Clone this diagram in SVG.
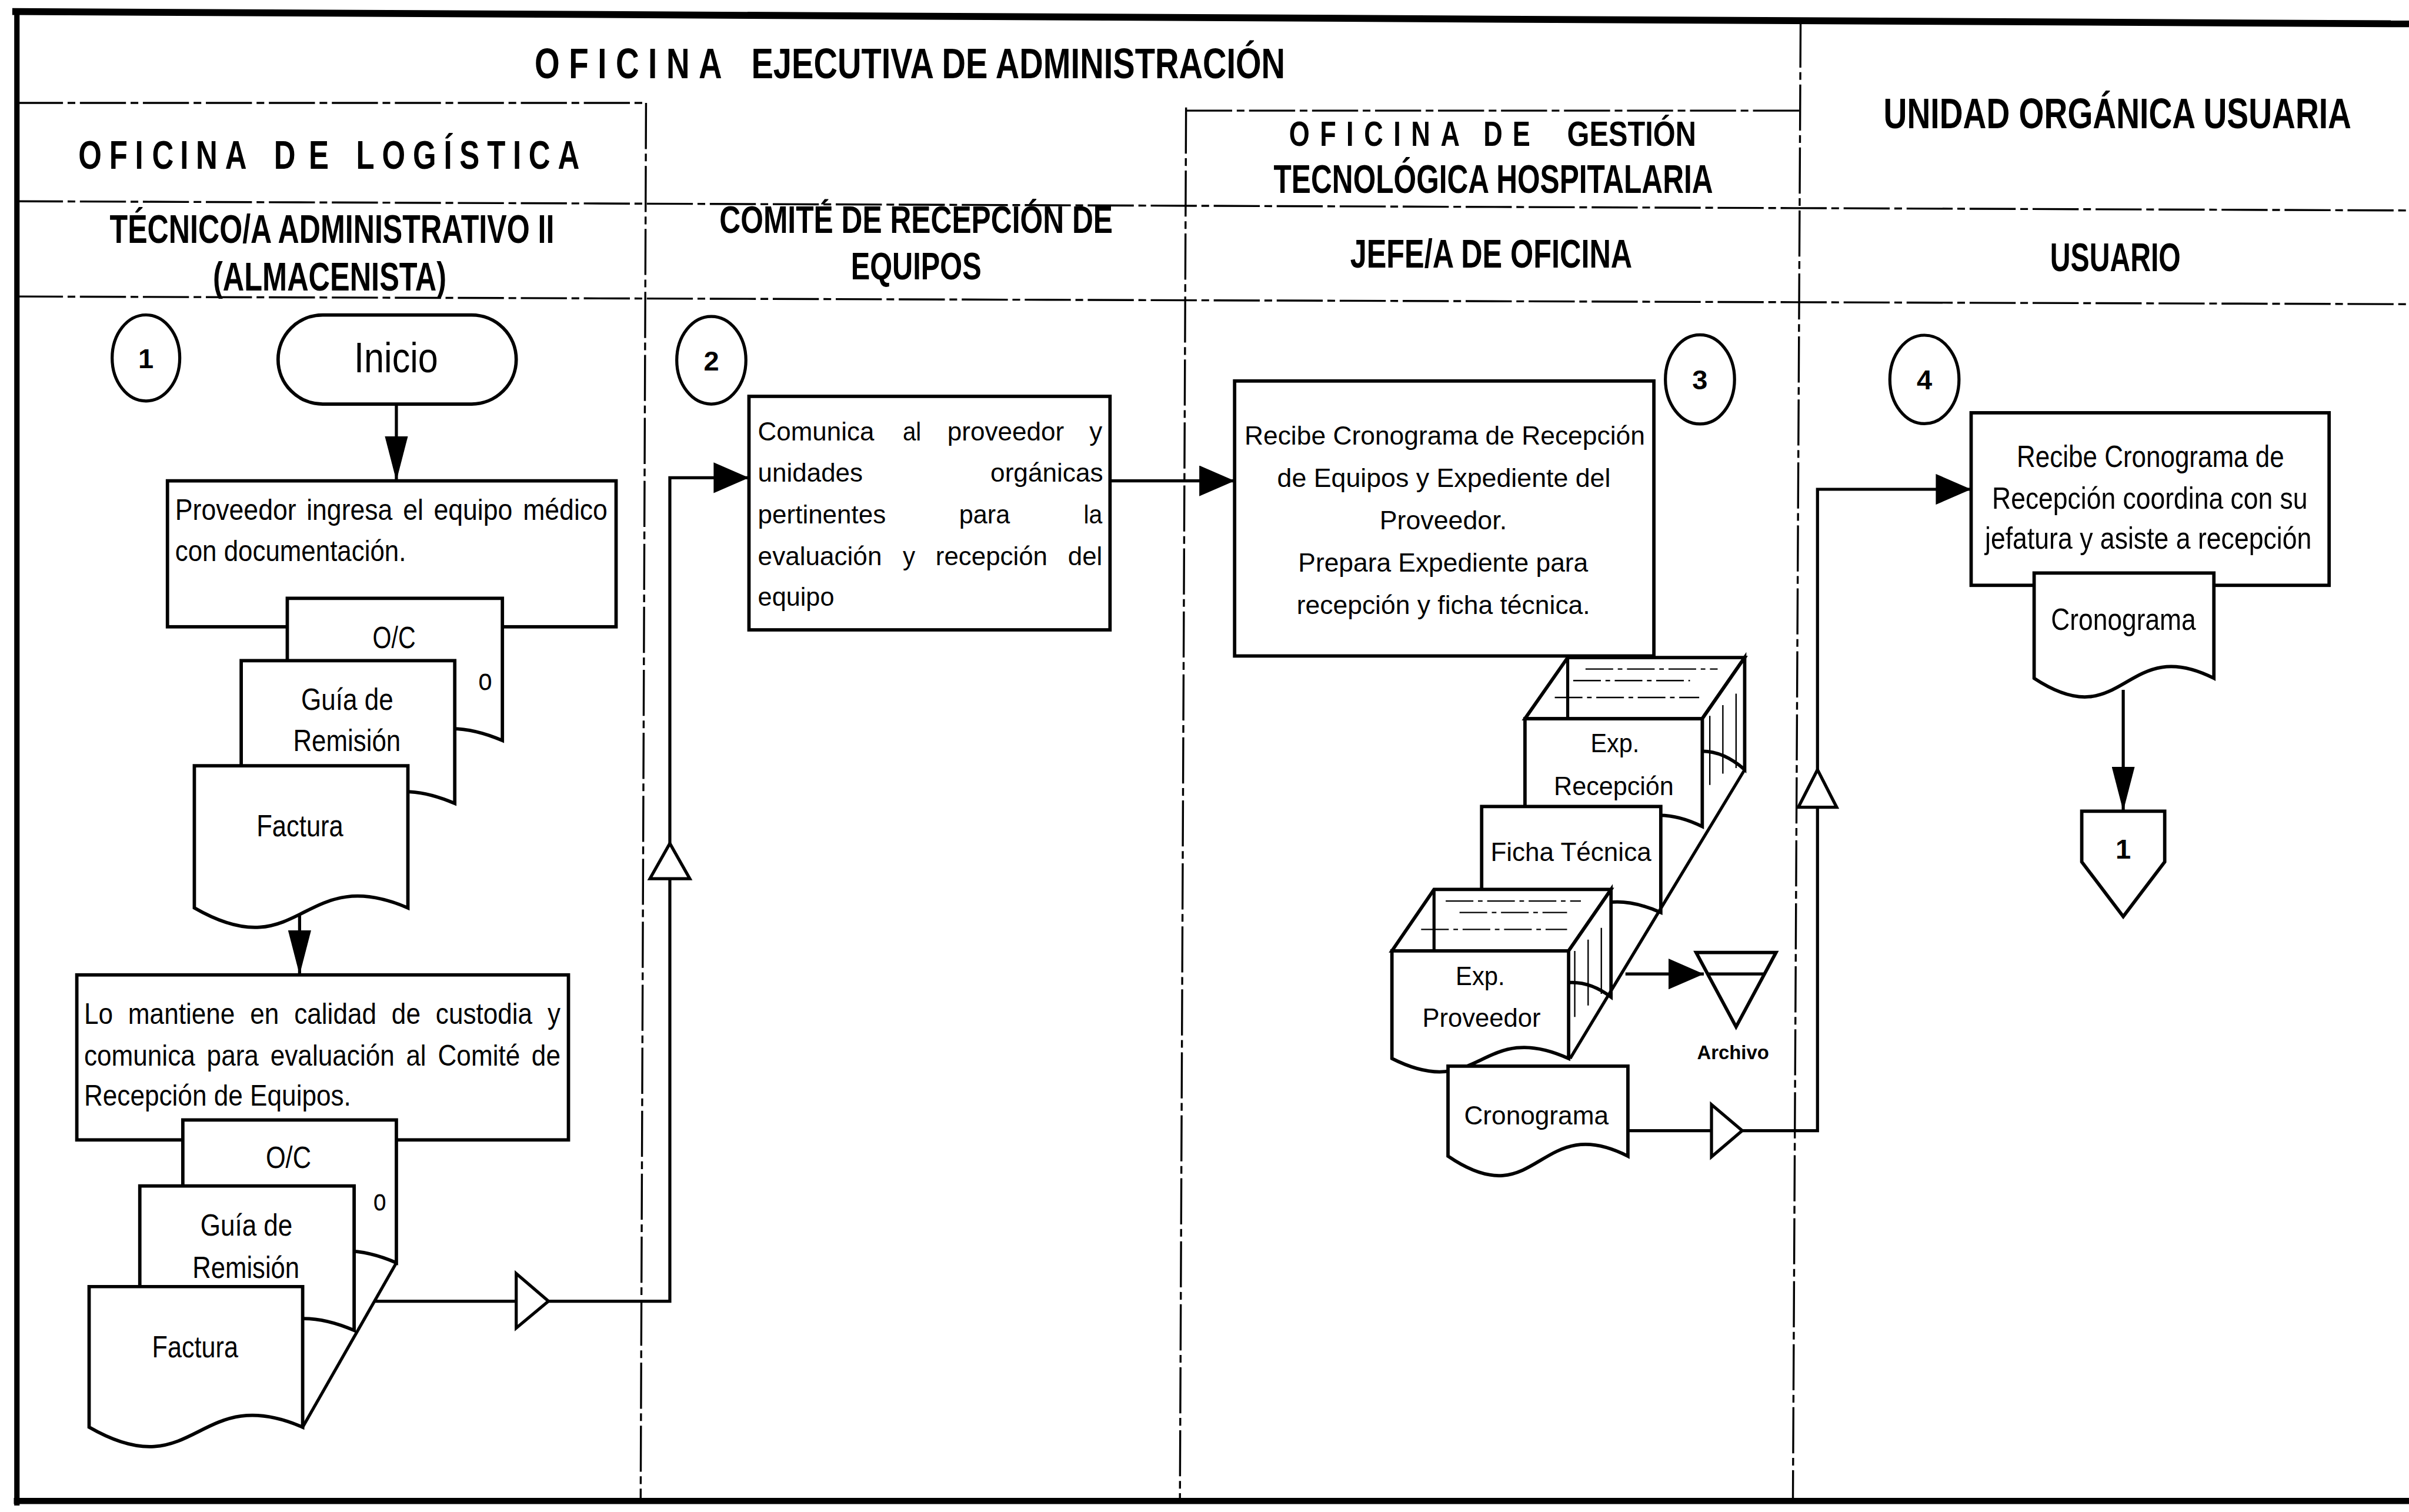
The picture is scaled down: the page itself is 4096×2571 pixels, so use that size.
<svg xmlns="http://www.w3.org/2000/svg" width="4096" height="2571" viewBox="0 0 4096 2571">
<defs>
<style>
text { font-family: "Liberation Sans", Arial, sans-serif; fill: #000; }
.hd { font-weight: bold; }
.b { font-weight: bold; }
.n19 { font-size: 19px; }
.n20 { font-size: 20px; }
.r17 { font-size: 17px; }
.num { font-size: 18px; font-weight: bold; text-anchor: middle; }
.shape { fill: #fff; stroke: #000; stroke-width: 2.2; stroke-linejoin: miter; }
.wire { fill: none; stroke: #000; stroke-width: 2; }
.open { fill: #fff; stroke: #000; stroke-width: 2; stroke-linejoin: miter; }
.grid { fill: none; stroke: #000; stroke-width: 1.3; stroke-dasharray: 30 3 5 3; }
.frame { fill: none; stroke: #000; }
.hair { fill: none; stroke: #000; stroke-width: 0.9; }
.haird { fill: none; stroke: #000; stroke-width: 0.9; stroke-dasharray: 18 3 3 3; }
</style>
<marker id="ahH" viewBox="0 0 23 20" refX="23" refY="10" markerWidth="23" markerHeight="20" markerUnits="userSpaceOnUse" orient="auto"><path d="M0,0 L23,10 L0,20 Z" fill="#000"/></marker>
<marker id="ahV" viewBox="0 0 29 15" refX="29" refY="7.5" markerWidth="29" markerHeight="15" markerUnits="userSpaceOnUse" orient="auto"><path d="M0,0 L29,7.5 L0,15 Z" fill="#000"/></marker>
</defs>
<rect width="4096" height="2571" fill="#fff"/>
<g transform="scale(2.61224)">

<!-- swimlane frame and headers -->
<g id="lanes">
  <path class="frame" stroke-width="4.5" d="M8,7.5 L1568,15.5"/>
  <path class="frame" stroke-width="3.5" d="M11,6 V980"/>
  <path class="frame" stroke-width="4" d="M9,977 H1568"/>
  <path class="grid" d="M11,67 H421"/>
  <path class="grid" d="M420.5,67 L417,977"/>
  <path class="grid" d="M772,72 H1172"/>
  <path class="grid" d="M772,70 L768,977"/>
  <path class="grid" d="M1172,14 L1167,977"/>
  <path class="grid" d="M11,131 L1568,137"/>
  <path class="grid" d="M11,193 L1568,198"/>

  <!-- letter-spaced, condensed headings: one x per letter in the narrowed frame -->
  <text class="hd" font-size="28" transform="translate(348,51) scale(0.75,1)" x="0 29.7 54.7 70.4 98.5 114.3 142.4" y="0">OFICINA</text>
  <text class="hd" x="489" y="51" font-size="28" textLength="347.5" lengthAdjust="spacingAndGlyphs">EJECUTIVA DE ADMINISTRACIÓN</text>
  <text class="hd" font-size="26" transform="translate(51,110) scale(0.75,1)" x="0 26.8 49.2 63.9 88.3 102 127.3 169.7 200 241.1 263.5 290.3 317.1 330.8 354.7 377.1 390.8 416.1" y="0">OFICINADELOGÍSTICA</text>
  <text class="hd" font-size="27.5" transform="translate(1226,83.5) scale(0.8,1)" x="0" y="0" textLength="380.6" lengthAdjust="spacingAndGlyphs">UNIDAD ORGÁNICA USUARIA</text>
  <text class="hd" font-size="23" transform="translate(839,95) scale(0.75,1)" x="0 26.8 49.7 65.1 90.7 106 131.6 168.8 194" y="0">OFICINADE</text>
  <text class="hd" x="1020" y="95" font-size="23" textLength="84" lengthAdjust="spacingAndGlyphs">GESTIÓN</text>
  <text class="hd" x="829" y="125.5" font-size="26" textLength="286" lengthAdjust="spacingAndGlyphs">TECNOLÓGICA HOSPITALARIA</text>
  <text class="hd" x="71.4" y="158" font-size="26" textLength="289.4" lengthAdjust="spacingAndGlyphs">TÉCNICO/A ADMINISTRATIVO II</text>
  <text class="hd" x="138.6" y="189" font-size="26" textLength="152" lengthAdjust="spacingAndGlyphs">(ALMACENISTA)</text>
  <text class="hd" x="468.3" y="151.5" font-size="25" textLength="256" lengthAdjust="spacingAndGlyphs">COMITÉ DE RECEPCIÓN DE</text>
  <text class="hd" x="553.8" y="181.8" font-size="25" textLength="85" lengthAdjust="spacingAndGlyphs">EQUIPOS</text>
  <text class="hd" x="878.8" y="174" font-size="26" textLength="183.6" lengthAdjust="spacingAndGlyphs">JEFE/A DE OFICINA</text>
  <text class="hd" x="1334.4" y="176.5" font-size="26" textLength="85" lengthAdjust="spacingAndGlyphs">USUARIO</text>
</g>

<!-- step markers -->
<g id="step-1"><ellipse class="open" cx="95" cy="233" rx="22" ry="28"/><text class="num" x="95" y="239.5">1</text></g>
<g id="step-2"><ellipse class="open" cx="463" cy="234.5" rx="22.5" ry="28.5"/><text class="num" x="463" y="241">2</text></g>
<g id="step-3"><ellipse class="open" cx="1106.5" cy="247" rx="22.5" ry="29"/><text class="num" x="1106.5" y="253.5">3</text></g>
<g id="step-4"><ellipse class="open" cx="1252.6" cy="247" rx="22.5" ry="28.8"/><text class="num" x="1252.6" y="253.5">4</text></g>

<!-- start terminator -->
<g id="start">
  <rect class="shape" x="181" y="205" width="155" height="58" rx="29" ry="29"/>
  <text x="230.5" y="242.3" font-size="28" textLength="54.6" lengthAdjust="spacingAndGlyphs">Inicio</text>
</g>

<!-- warehouse: equipment received -->
<g id="task-receive">
  <rect class="shape" x="109" y="313" width="292" height="95"/>
  <g class="n19">
    <text x="114" y="338.3" textLength="78.8" lengthAdjust="spacingAndGlyphs">Proveedor</text>
    <text x="199.5" y="338.3" textLength="56" lengthAdjust="spacingAndGlyphs">ingresa</text>
    <text x="262.3" y="338.3" textLength="13.3" lengthAdjust="spacingAndGlyphs">el</text>
    <text x="282.3" y="338.3" textLength="51.3" lengthAdjust="spacingAndGlyphs">equipo</text>
    <text x="340.4" y="338.3" textLength="55" lengthAdjust="spacingAndGlyphs">médico</text>
    <text x="114" y="365.3" textLength="150.3" lengthAdjust="spacingAndGlyphs">con documentación.</text>
  </g>
</g>
<g id="docs-receive" class="n20">
  <path class="shape" d="M187,389.5 H327 V482 C257,452 257,522 187,482 Z"/>
  <text x="242.5" y="422" textLength="28" lengthAdjust="spacingAndGlyphs">O/C</text>
  <text x="311.3" y="449" textLength="9" lengthAdjust="spacingAndGlyphs">o</text>
  <path class="shape" d="M157,430 H296 V523 C226.5,493 226.5,563 157,523 Z"/>
  <text x="196" y="462" textLength="60" lengthAdjust="spacingAndGlyphs">Guía de</text>
  <text x="190.8" y="489" textLength="70" lengthAdjust="spacingAndGlyphs">Remisión</text>
  <path class="shape" d="M126.5,498.5 H265.5 V591 C196,561 196,631 126.5,591 Z"/>
  <text x="167" y="544.3" textLength="56.5" lengthAdjust="spacingAndGlyphs">Factura</text>
</g>

<!-- warehouse: custody -->
<g id="task-custody">
  <rect class="shape" x="50" y="634.6" width="320" height="107.4"/>
  <g class="n19">
    <text x="54.7" y="666.5" textLength="18.8" lengthAdjust="spacingAndGlyphs">Lo</text>
    <text x="83.4" y="666.5" textLength="69.5" lengthAdjust="spacingAndGlyphs">mantiene</text>
    <text x="162.8" y="666.5" textLength="18.8" lengthAdjust="spacingAndGlyphs">en</text>
    <text x="191.5" y="666.5" textLength="53.5" lengthAdjust="spacingAndGlyphs">calidad</text>
    <text x="254.9" y="666.5" textLength="18.8" lengthAdjust="spacingAndGlyphs">de</text>
    <text x="283.6" y="666.5" textLength="62.9" lengthAdjust="spacingAndGlyphs">custodia</text>
    <text x="356.4" y="666.5" textLength="8.4" lengthAdjust="spacingAndGlyphs">y</text>
    <text x="54.7" y="693.6" textLength="72.3" lengthAdjust="spacingAndGlyphs">comunica</text>
    <text x="134.6" y="693.6" textLength="33.8" lengthAdjust="spacingAndGlyphs">para</text>
    <text x="176" y="693.6" textLength="80.8" lengthAdjust="spacingAndGlyphs">evaluación</text>
    <text x="264.3" y="693.6" textLength="13.1" lengthAdjust="spacingAndGlyphs">al</text>
    <text x="285" y="693.6" textLength="53.5" lengthAdjust="spacingAndGlyphs">Comité</text>
    <text x="346" y="693.6" textLength="18.8" lengthAdjust="spacingAndGlyphs">de</text>
    <text x="54.7" y="719.5" textLength="173.8" lengthAdjust="spacingAndGlyphs">Recepción de Equipos.</text>
  </g>
</g>
<g id="docs-custody" class="n20">
  <path class="shape" d="M119,729 H258 V822 C188.5,792 188.5,862 119,822 Z"/>
  <text x="173" y="760.3" textLength="29.5" lengthAdjust="spacingAndGlyphs">O/C</text>
  <text x="243" y="788" textLength="8.4" lengthAdjust="spacingAndGlyphs">o</text>
  <path class="shape" d="M91,772 H230.5 V866 C160.75,836 160.75,906 91,866 Z"/>
  <text x="130.4" y="804.4" textLength="60" lengthAdjust="spacingAndGlyphs">Guía de</text>
  <text x="125.3" y="832" textLength="69.6" lengthAdjust="spacingAndGlyphs">Remisión</text>
  <path class="shape" d="M58,837.5 H197 V929 C127.5,899 127.5,969 58,929 Z"/>
  <text x="99" y="883.4" textLength="56" lengthAdjust="spacingAndGlyphs">Factura</text>
  <path class="wire" stroke-width="2.2" d="M258,822 L197,929"/>
</g>

<!-- committee -->
<g id="task-committee" class="r17">
  <rect class="shape" x="487.5" y="258" width="235" height="152"/>
  <text x="493.3" y="286.6" textLength="75.7" lengthAdjust="spacingAndGlyphs">Comunica</text>
  <text x="587.6" y="286.6" textLength="12" lengthAdjust="spacingAndGlyphs">al</text>
  <text x="616.6" y="286.6" textLength="76" lengthAdjust="spacingAndGlyphs">proveedor</text>
  <text x="709.1" y="286.6" textLength="8.4" lengthAdjust="spacingAndGlyphs">y</text>
  <text x="493.3" y="313.5" textLength="68.3" lengthAdjust="spacingAndGlyphs">unidades</text>
  <text x="644.7" y="313.5" textLength="73.3" lengthAdjust="spacingAndGlyphs">orgánicas</text>
  <text x="493.3" y="340.6" textLength="83.3" lengthAdjust="spacingAndGlyphs">pertinentes</text>
  <text x="624.3" y="340.6" textLength="33.1" lengthAdjust="spacingAndGlyphs">para</text>
  <text x="705.3" y="340.6" textLength="12.2" lengthAdjust="spacingAndGlyphs">la</text>
  <text x="493.3" y="367.7" textLength="80.7" lengthAdjust="spacingAndGlyphs">evaluación</text>
  <text x="587.6" y="367.7" textLength="8.1" lengthAdjust="spacingAndGlyphs">y</text>
  <text x="609" y="367.7" textLength="72.8" lengthAdjust="spacingAndGlyphs">recepción</text>
  <text x="695.1" y="367.7" textLength="22.4" lengthAdjust="spacingAndGlyphs">del</text>
  <text x="493.3" y="394.3" textLength="49.7" lengthAdjust="spacingAndGlyphs">equipo</text>
</g>

<!-- hospital technology office -->
<g id="task-technology" class="r17">
  <rect class="shape" x="803.6" y="248" width="272.9" height="179"/>
  <text x="810" y="289.5" textLength="260.7" lengthAdjust="spacingAndGlyphs">Recibe Cronograma de Recepción</text>
  <text x="831.3" y="317" textLength="217" lengthAdjust="spacingAndGlyphs">de Equipos y Expediente del</text>
  <text x="898" y="344.5" textLength="82.8" lengthAdjust="spacingAndGlyphs">Proveedor.</text>
  <text x="845" y="372" textLength="188.7" lengthAdjust="spacingAndGlyphs">Prepara Expediente para</text>
  <text x="844" y="399.5" textLength="191" lengthAdjust="spacingAndGlyphs">recepción y ficha técnica.</text>
</g>

<!-- file stack: reception file, data sheet, supplier file -->
<g id="files-stack" class="r17">
  <g id="file-reception">
    <path class="shape" d="M992.6,467.8 L1020.4,428 H1135.6 L1108,467.8 Z"/>
    <path class="haird" d="M1032,435.5 H1118 M1024,443 H1100 M1012,454 H1106"/>
    <path class="wire" stroke-width="2.2" d="M1020.4,428 V467.8"/>
    <path class="shape" d="M1108,467.8 L1135.6,428 V501 Q1122,489 1108,489 Z"/>
    <path class="hair" d="M1112.9,466 V511 M1121.4,459 V503.6 M1130,451.5 V500"/>
    <path class="shape" d="M992.6,467.8 H1108 V538 C1050.3,510 1050.3,574 992.6,538 Z"/>
    <text x="1035.3" y="489.6" textLength="31.7" lengthAdjust="spacingAndGlyphs">Exp.</text>
    <text x="1011.4" y="517.5" textLength="78" lengthAdjust="spacingAndGlyphs">Recepción</text>
  </g>
  <g id="file-datasheet">
    <path class="shape" d="M964.4,525 H1081 V594 C1022.7,568 1022.7,626 964.4,594 Z"/>
    <text x="970.2" y="560.4" textLength="104.6" lengthAdjust="spacingAndGlyphs">Ficha Técnica</text>
  </g>
  <g id="file-supplier">
    <path class="shape" d="M906,619 L933.4,579 H1048.6 L1021,619 Z"/>
    <path class="haird" d="M941,586.5 H1029 M950,594 H1020 M925,605 H1020"/>
    <path class="wire" stroke-width="2.2" d="M933.4,579 V619"/>
    <path class="shape" d="M1021,619 L1048.6,579 V649 Q1035,638.7 1021,639.6 Z"/>
    <path class="hair" d="M1025,619 V662 M1033.7,611.6 V654.5 M1042.3,604 V647"/>
    <path class="shape" d="M906,619 H1021 V689 C963.5,663 963.5,718 906,689 Z"/>
    <text x="947.5" y="641.4" textLength="32" lengthAdjust="spacingAndGlyphs">Exp.</text>
    <text x="925.8" y="668.4" textLength="77" lengthAdjust="spacingAndGlyphs">Proveedor</text>
  </g>
  <path class="wire" stroke-width="2.2" d="M1135.6,501 L1022,689"/>
</g>

<!-- archive -->
<g id="archive">
  <path class="shape" d="M1104,620 H1156 L1130,668.4 Z"/>
  <path class="wire" d="M1111.5,634 H1148.5"/>
  <text class="b" x="1104.6" y="689.3" font-size="12.6" textLength="46.8" lengthAdjust="spacingAndGlyphs">Archivo</text>
</g>

<!-- schedule document -->
<g id="schedule-technology" class="r17">
  <path class="shape" d="M942.5,694 H1059.6 V752.6 C1001,722.6 1001,792.6 942.5,752.6 Z"/>
  <text x="953" y="732" textLength="94" lengthAdjust="spacingAndGlyphs">Cronograma</text>
</g>

<!-- user unit -->
<g id="task-user" class="n20">
  <rect class="shape" x="1283" y="268.7" width="233" height="112.3"/>
  <text x="1312.7" y="304" textLength="174" lengthAdjust="spacingAndGlyphs">Recibe Cronograma de</text>
  <text x="1296.6" y="331" textLength="205.4" lengthAdjust="spacingAndGlyphs">Recepción coordina con su</text>
  <text x="1292" y="357" textLength="212.6" lengthAdjust="spacingAndGlyphs">jefatura y asiste a recepción</text>
</g>
<g id="schedule-user" class="n20">
  <path class="shape" d="M1324,373 H1441 V441.5 C1382.5,412 1382.5,480 1324,441.5 Z"/>
  <text x="1335" y="410" textLength="94.3" lengthAdjust="spacingAndGlyphs">Cronograma</text>
</g>
<g id="offpage-1">
  <path class="shape" d="M1355,528 H1409 V561 L1382,596.6 L1355,561 Z"/>
  <text class="num" x="1382" y="559">1</text>
</g>

<!-- connectors -->
<g id="connectors">
  <path class="wire" d="M258,263 V313" marker-end="url(#ahV)"/>
  <path class="wire" d="M195,595 V634.6" marker-end="url(#ahV)"/>
  <path class="wire" d="M244,847 H336"/>
  <path class="open" d="M336,829 L357,847 L336,864.5 Z"/>
  <path class="wire" d="M357,847 H436 V572"/>
  <path class="open" d="M423,572 L436,549 L449,572 Z"/>
  <path class="wire" d="M436,549 V311 H487.5" marker-end="url(#ahH)"/>
  <path class="wire" d="M722.5,313 H803.6" marker-end="url(#ahH)"/>
  <path class="wire" d="M1058,634 H1109" marker-end="url(#ahH)"/>
  <path class="wire" d="M1059.6,736 H1114"/>
  <path class="open" d="M1114,719 L1134,736 L1114,753 Z"/>
  <path class="wire" d="M1134,736 H1183 V525.5"/>
  <path class="open" d="M1170.5,525.5 L1183,501 L1195.5,525.5 Z"/>
  <path class="wire" d="M1183,501 V318.5 H1283" marker-end="url(#ahH)"/>
  <path class="wire" d="M1382,449 V528" marker-end="url(#ahV)"/>
</g>
</g>
</svg>
